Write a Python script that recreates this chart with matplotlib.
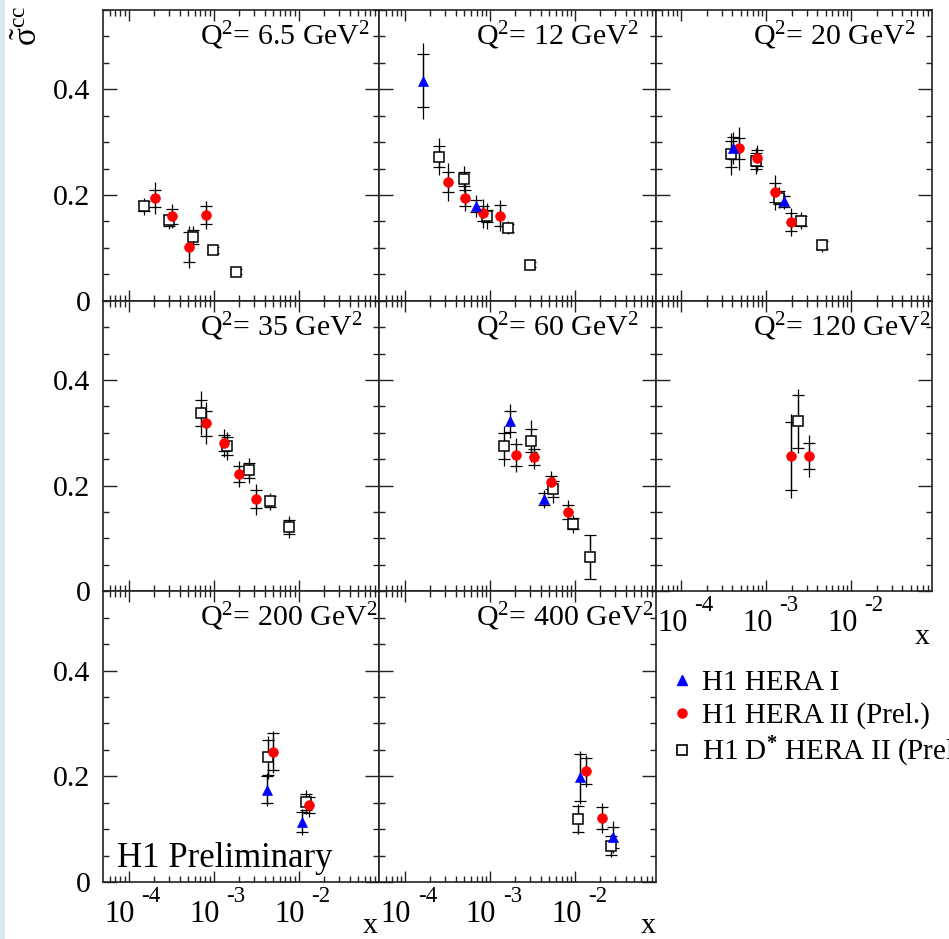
import matplotlib
matplotlib.use("Agg")
import matplotlib.pyplot as plt
from matplotlib.lines import Line2D
from matplotlib.patches import Rectangle
from matplotlib.ticker import LogLocator, MultipleLocator, NullFormatter, FixedLocator

plt.rcParams['font.family'] = ['Liberation Serif', 'DejaVu Serif']
plt.rcParams['mathtext.fontset'] = 'custom'
plt.rcParams['mathtext.rm'] = 'Liberation Serif'
plt.rcParams['mathtext.it'] = 'Liberation Serif:italic'
plt.rcParams['mathtext.bf'] = 'Liberation Serif:bold'

# ---------------- data ----------------
q2_labels = ["6.5", "12", "20", "35", "60", "120", "200", "400"]

x_ticks = [1e-4, 1e-3, 1e-2]
x_tick_exps = ["-4", "-3", "-2"]
y_ticks = [0, 0.2, 0.4]
y_tick_labels = ["0", "0.2", "0.4"]

# H1 HERA I (blue triangles), one list per panel
hera1_x = [[], [1.65e-4, 6.8e-4], [4.12e-4, 1.64e-3], [], [1.74e-3, 4.36e-3], [], [4.27e-3, 1.1e-2], [1.15e-2, 2.83e-2]]
hera1_y = [[], [0.416, 0.179], [0.289, 0.188], [], [0.322, 0.175], [], [0.175, 0.113], [0.198, 0.085]]
hera1_stat = [[], [0.050, 0.012], [0.020, 0.010], [], [0.020, 0.012], [], [0.025, 0.019], [0.044, 0.020]]
hera1_tot = [[], [0.072, 0.020], [0.030, 0.015], [], [0.032, 0.017], [], [0.032, 0.025], [0.050, 0.030]]

# H1 HERA II prel. (red circles)
hera2_x = [[2.04e-4, 3.23e-4, 5.08e-4, 8.2e-4],
           [3.19e-4, 5.08e-4, 8.2e-4, 1.33e-3],
           [4.85e-4, 7.76e-4, 1.28e-3, 1.97e-3],
           [8.1e-4, 1.32e-3, 2.0e-3, 3.2e-3],
           [2.04e-3, 3.28e-3, 5.2e-3, 8.3e-3],
           [1.97e-3, 3.18e-3],
           [5.0e-3, 1.32e-2],
           [1.36e-2, 2.06e-2]]
hera2_y = [[0.194, 0.160, 0.102, 0.162],
           [0.224, 0.195, 0.165, 0.161],
           [0.288, 0.270, 0.205, 0.149],
           [0.318, 0.281, 0.222, 0.174],
           [0.258, 0.254, 0.206, 0.150],
           [0.256, 0.256],
           [0.246, 0.145],
           [0.210, 0.121]]
hera2_stat = [[0.016, 0.014, 0.028, 0.017],
              [0.019, 0.015, 0.014, 0.020],
              [0.020, 0.015, 0.018, 0.017],
              [0.024, 0.015, 0.015, 0.017],
              [0.020, 0.015, 0.012, 0.013],
              [0.064, 0.024],
              [0.035, 0.015],
              [0.025, 0.020]]
hera2_tot = [[0.030, 0.022, 0.040, 0.027],
             [0.036, 0.025, 0.027, 0.030],
             [0.040, 0.025, 0.033, 0.027],
             [0.040, 0.027, 0.024, 0.030],
             [0.032, 0.022, 0.022, 0.022],
             [0.079, 0.040],
             [0.040, 0.022],
             [0.030, 0.028]]

# H1 D* HERA II prel. (open squares)
dstar_x = [[1.51e-4, 2.98e-4, 5.7e-4, 9.9e-4, 1.83e-3],
           [2.5e-4, 5.0e-4, 9.2e-4, 1.64e-3, 3.0e-3],
           [3.87e-4, 7.6e-4, 1.4e-3, 2.54e-3, 4.5e-3],
           [7.2e-4, 1.45e-3, 2.6e-3, 4.6e-3, 7.7e-3],
           [1.48e-3, 3.05e-3, 5.6e-3, 9.5e-3, 1.52e-2],
           [2.38e-3],
           [4.35e-3, 1.22e-2],
           [1.09e-2, 2.66e-2]]
dstar_y = [[0.179, 0.152, 0.121, 0.096, 0.055],
           [0.272, 0.230, 0.160, 0.138, 0.068],
           [0.278, 0.264, 0.195, 0.151, 0.105],
           [0.337, 0.275, 0.229, 0.170, 0.122],
           [0.275, 0.285, 0.193, 0.128, 0.065],
           [0.322],
           [0.236, 0.151],
           [0.119, 0.069]]
dstar_stat = [[0.010, 0.010, 0.013, 0.005, 0.004],
              [0.020, 0.013, 0.012, 0.008, 0.005],
              [0.025, 0.015, 0.012, 0.010, 0.008],
              [0.025, 0.017, 0.014, 0.010, 0.013],
              [0.025, 0.022, 0.015, 0.010, 0.042],
              [0.050],
              [0.033, 0.015],
              [0.025, 0.018]]
dstar_tot = [[0.016, 0.016, 0.020, 0.007, 0.005],
             [0.035, 0.024, 0.025, 0.012, 0.008],
             [0.040, 0.025, 0.020, 0.016, 0.012],
             [0.042, 0.027, 0.024, 0.017, 0.021],
             [0.038, 0.040, 0.025, 0.017, 0.042],
             [0.060],
             [0.041, 0.023],
             [0.028, 0.022]]

legend_labels = ["H1 HERA I", "H1 HERA II (Prel.)", r"H1 D$^{\mathbf{*}}$ HERA II (Prel.)"]

# ---------------- figure ----------------
W, H = 949, 939
fig = plt.figure(figsize=(W / 100, H / 100), dpi=100)
fig.patches.append(Rectangle((0, 0), 5 / W, 1, transform=fig.transFigure,
                             facecolor='#d8e8ee', edgecolor='none', zorder=0))

left_px, right_px, top_px, bot_px = 103, 932, 10, 882
gs = fig.add_gridspec(3, 3, left=left_px / W, right=right_px / W,
                      top=1 - top_px / H, bottom=1 - bot_px / H,
                      wspace=0, hspace=0)

FS = 21.5
xlim = (10 ** -4.3, 10 ** -1.05)

for i, q in enumerate(q2_labels):
    r, c = divmod(i, 3)
    ax = fig.add_subplot(gs[r, c])
    ax.set_xscale('log')
    ax.set_xlim(*xlim)
    ax.set_ylim(0, 0.55)

    for xs, ys, st, tt, kw in [
        (dstar_x[i], dstar_y[i], dstar_stat[i], dstar_tot[i],
         dict(marker='s', ms=7, mfc='white', mec='black', mew=1.1)),
        (hera2_x[i], hera2_y[i], hera2_stat[i], hera2_tot[i],
         dict(marker='o', ms=7, mfc='red', mec='red', mew=0.5)),
        (hera1_x[i], hera1_y[i], hera1_stat[i], hera1_tot[i],
         dict(marker='^', ms=7, mfc='blue', mec='blue', mew=0.5)),
    ]:
        if len(xs) == 0:
            continue
        ax.errorbar(xs, ys, yerr=tt, fmt='none', ecolor='black', elinewidth=0.9,
                    capsize=0, zorder=2)
        ax.errorbar(xs, ys, yerr=st, fmt='none', ecolor='black', elinewidth=0.9,
                    capsize=4, capthick=0.9, zorder=2)
        ax.plot(xs, ys, ls='none', zorder=3, **kw)

    # ticks
    ax.xaxis.set_major_locator(FixedLocator(x_ticks))
    ax.xaxis.set_minor_locator(LogLocator(base=10, subs=range(2, 10), numticks=20))
    ax.xaxis.set_minor_formatter(NullFormatter())
    ax.yaxis.set_major_locator(FixedLocator(y_ticks))
    ax.yaxis.set_minor_locator(MultipleLocator(0.05))
    ax.tick_params(which='both', direction='in', top=True, right=True,
                   color='#222222', width=1.0)
    ax.tick_params(which='major', length=8)
    ax.tick_params(which='minor', length=4.5)
    ax.tick_params(axis='y', which='major', length=10)
    ax.tick_params(axis='y', labelsize=FS, pad=9)
    for s in ax.spines.values():
        s.set_color('#222222')
        s.set_linewidth(1.2)

    if c == 0:
        ax.set_yticklabels(y_tick_labels)
    else:
        ax.set_yticklabels([])
    ax.set_xticklabels([])
    if r == 2 or (r == 1 and c == 2):
        # ROOT-style "10" with a separately raised exponent
        for xt, ex in zip(x_ticks, x_tick_exps):
            ax.annotate('10', xy=(xt, 0), xycoords=('data', 'axes fraction'),
                        xytext=(-24, -40), textcoords='offset pixels',
                        ha='left', va='baseline', fontsize=22,
                        annotation_clip=False)
            ax.annotate(ex, xy=(xt, 0), xycoords=('data', 'axes fraction'),
                        xytext=(13, -20), textcoords='offset pixels',
                        ha='left', va='baseline', fontsize=16.5,
                        annotation_clip=False)

    ax.text(97 / 276.3, 0.88, r'Q$^2$= ' + q + r' GeV$^2$', transform=ax.transAxes,
            ha='left', va='baseline', fontsize=FS)

    if i == 6:
        ax.text(0.05, 0.052, 'H1 Preliminary', transform=ax.transAxes,
                ha='left', va='baseline', fontsize=25)

# axis titles
fig.text(370 / W, 0.0, 'x', ha='center', va='bottom', fontsize=FS)
fig.text(648 / W, 0.0, 'x', ha='center', va='bottom', fontsize=FS)
fig.text(922 / W, 1 - 650 / H, 'x', ha='center', va='bottom', fontsize=FS)
fig.text(29 / W, 1 - 6 / H, r'$\tilde{\mathrm{\sigma}}^{\mathrm{cc}}$', rotation=90,
         ha='center', va='top', fontsize=24)

# legend
handles = [
    Line2D([], [], ls='none', marker='^', ms=6.5, mfc='blue', mec='blue'),
    Line2D([], [], ls='none', marker='o', ms=6.5, mfc='red', mec='red'),
    Line2D([], [], ls='none', marker='s', ms=6.5, mfc='white', mec='black', mew=1.2),
]
fig.legend(handles, legend_labels, loc='upper left',
           bbox_to_anchor=(670 / W, 1 - 670 / H), frameon=False,
           fontsize=21, handlelength=0.8, handletextpad=0.3,
           labelspacing=0.2, borderpad=0, borderaxespad=0)

fig.savefig('out.png', dpi=100)
